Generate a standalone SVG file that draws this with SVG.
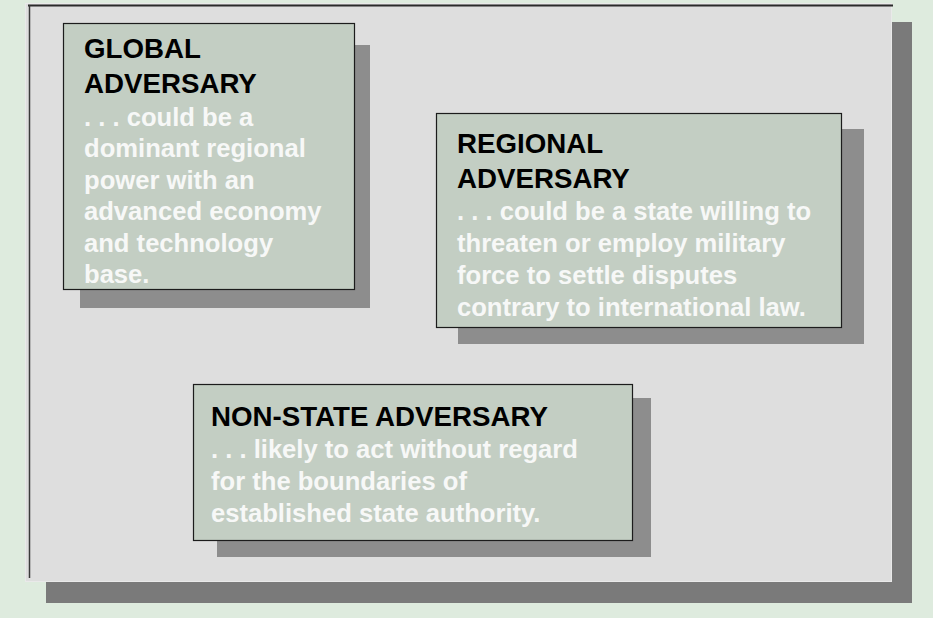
<svg xmlns="http://www.w3.org/2000/svg" width="933" height="618" viewBox="0 0 933 618">
  <style>
    .shadow { fill: #8d8d8d; }
    .box { fill: #c3cec3; stroke: #1c1c1c; stroke-width: 1.2; }
    .title { font-family: "Liberation Sans", Arial, sans-serif; font-weight: bold; font-size: 27.7px; fill: #000000; }
    .body { font-family: "Liberation Sans", Arial, sans-serif; font-weight: bold; font-size: 25.6px; fill: #f7f8f7; }
  </style>
  <rect x="0" y="0" width="933" height="618" fill="#deebde"/>
  <g id="panel">
    <rect x="46" y="22" width="866" height="581" fill="#7a7a7a"/>
    <rect x="25.5" y="3.5" width="866" height="578" fill="#dedede" stroke="#e9e9e9" stroke-width="1"/>
    <line x1="28" y1="5.5" x2="893" y2="5.5" stroke="#2a2a2a" stroke-width="2"/>
    <line x1="29.5" y1="5" x2="29.5" y2="578" stroke="#3a3a3a" stroke-width="1.5"/>
  </g>
  <g id="connectors"/>
  <g id="node-global">
    <rect class="shadow" x="80" y="45" width="290" height="263"/>
    <rect class="box" x="63.5" y="23.5" width="291" height="266"/>
    <text class="title" x="84" y="57.7">GLOBAL</text>
    <text class="title" x="84" y="92.7">ADVERSARY</text>
    <text class="body" x="84" y="126">. . . could be a</text>
    <text class="body" x="84" y="157.4">dominant regional</text>
    <text class="body" x="84" y="188.8">power with an</text>
    <text class="body" x="84" y="220.2">advanced economy</text>
    <text class="body" x="84" y="251.6">and technology</text>
    <text class="body" x="84" y="283">base.</text>
  </g>
  <g id="node-regional">
    <rect class="shadow" x="458" y="129" width="406" height="215"/>
    <rect class="box" x="436.5" y="113.5" width="405" height="214"/>
    <text class="title" x="457" y="152.7">REGIONAL</text>
    <text class="title" x="457" y="187.7">ADVERSARY</text>
    <text class="body" x="457" y="220">. . . could be a state willing to</text>
    <text class="body" x="457" y="252">threaten or employ military</text>
    <text class="body" x="457" y="284">force to settle disputes</text>
    <text class="body" x="457" y="316">contrary to international law.</text>
  </g>
  <g id="node-nonstate">
    <rect class="shadow" x="217" y="398" width="434" height="159"/>
    <rect class="box" x="193.5" y="384.5" width="439" height="156"/>
    <text class="title" x="211" y="426">NON-STATE ADVERSARY</text>
    <text class="body" x="211" y="458.3">. . . likely to act without regard</text>
    <text class="body" x="211" y="490">for the boundaries of</text>
    <text class="body" x="211" y="521.7">established state authority.</text>
  </g>
</svg>
